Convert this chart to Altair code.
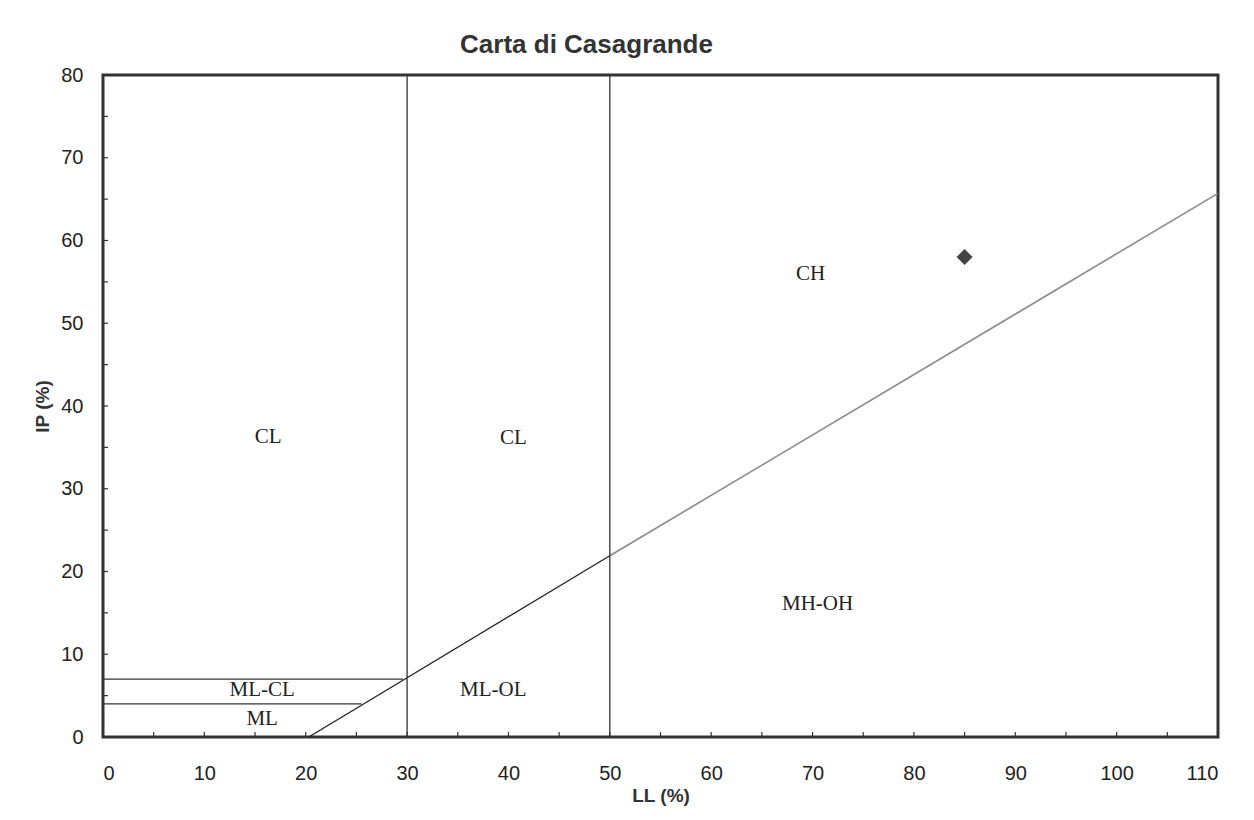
import altair as alt
import pandas as pd

# A-line (IP = 0.73 (LL - 20)) segments
aline_black_ll = [20.3, 50]
aline_black_ip = [0, 21.9]
aline_gray_ll = [50, 110]
aline_gray_ip = [21.9, 65.7]

# vertical boundaries
vert_ll = [30, 50]
vert_ip_low = [0, 0]
vert_ip_high = [80, 80]

# horizontal boundaries
hor_ip = [7, 4]
hor_ll_start = [0, 0]
hor_ll_end = [29.6, 25.5]

# sample point
point_ll = [85]
point_ip = [58]

# zone labels
zone_names = ["CL", "CL", "CH", "MH-OH", "ML-OL", "ML-CL", "ML"]
zone_ll = [16.3, 40.5, 69.8, 70.5, 38.5, 15.7, 15.7]
zone_ip = [36.3, 36.1, 56.0, 16.1, 5.7, 5.7, 2.2]

# minor/major tick positions (drawn inward)
x_tick_vals = list(range(5, 110, 5))
y_tick_vals = list(range(5, 80, 5))

W, H = 1115, 662
xs = alt.Scale(domain=[0, 110], nice=False, zero=False)
ys = alt.Scale(domain=[0, 80], nice=False, zero=False)

x_axis = alt.Axis(values=list(range(0, 111, 10)), tickSize=0, domain=False, grid=False,
                  labelFont="Liberation Sans", labelFontSize=20, labelColor="#222",
                  labelPadding=26, title="LL (%)", titleFont="Liberation Sans",
                  titleFontSize=19, titleFontWeight="bold", titleColor="#333", titlePadding=3)
y_axis = alt.Axis(values=list(range(0, 81, 10)), tickSize=0, domain=False, grid=False,
                  labelFont="Liberation Sans", labelFontSize=20, labelColor="#222",
                  labelPadding=20, title="IP (%)", titleFont="Liberation Sans",
                  titleFontSize=19, titleFontWeight="bold", titleColor="#333", titlePadding=8)

base_x = alt.X("LL:Q", scale=xs, axis=x_axis)
base_y = alt.Y("IP:Q", scale=ys, axis=y_axis)

df_black = pd.DataFrame({"LL": aline_black_ll, "IP": aline_black_ip})
df_gray = pd.DataFrame({"LL": aline_gray_ll, "IP": aline_gray_ip})
line_black = alt.Chart(df_black).mark_line(color="#222", strokeWidth=1.3).encode(x=base_x, y=base_y)
line_gray = alt.Chart(df_gray).mark_line(color="#8a8a8a", strokeWidth=1.6).encode(x="LL:Q", y="IP:Q")

df_vert = pd.DataFrame({"LL": vert_ll, "IP": vert_ip_low, "IP2": vert_ip_high})
vert = alt.Chart(df_vert).mark_rule(color="#333", strokeWidth=1.3).encode(
    x="LL:Q", y="IP:Q", y2="IP2:Q")

df_hor = pd.DataFrame({"IP": hor_ip, "LL": hor_ll_start, "LL2": hor_ll_end})
hor = alt.Chart(df_hor).mark_rule(color="#333", strokeWidth=1.3).encode(
    y="IP:Q", x="LL:Q", x2="LL2:Q")

df_pt = pd.DataFrame({"LL": point_ll, "IP": point_ip})
pt = alt.Chart(df_pt).mark_point(shape="diamond", filled=True, color="#444", size=260, opacity=1).encode(
    x="LL:Q", y="IP:Q")

df_lab = pd.DataFrame({"LL": zone_ll, "IP": zone_ip, "name": zone_names})
labels = alt.Chart(df_lab).mark_text(font="Liberation Serif", fontSize=21, color="#222",
                                     align="center", baseline="middle").encode(
    x="LL:Q", y="IP:Q", text="name:N")

df_xt = pd.DataFrame({"LL": x_tick_vals})
xticks = alt.Chart(df_xt).mark_rule(color="#333", strokeWidth=1.2).encode(
    x="LL:Q", y=alt.value(H), y2=alt.value(H - 5))
df_yt = pd.DataFrame({"IP": y_tick_vals})
yticks = alt.Chart(df_yt).mark_rule(color="#333", strokeWidth=1.2).encode(
    y="IP:Q", x=alt.value(0), x2=alt.value(5))

chart = alt.layer(line_black, line_gray, vert, hor, xticks, yticks, labels, pt).properties(
    width=W, height=H,
    background="white",
    title=alt.TitleParams("Carta di Casagrande", font="Liberation Sans", fontSize=26,
                          fontWeight="bold", color="#333", anchor="middle", dx=-74,
                          baseline="alphabetic", offset=-14),
    autosize=alt.AutoSizeParams(type="none"),
    padding={"left": 95, "top": 67, "right": 20, "bottom": 80},
).configure_view(stroke="#333", strokeWidth=3)

chart.save("out.html", embed_options={"renderer": "svg", "actions": False})
